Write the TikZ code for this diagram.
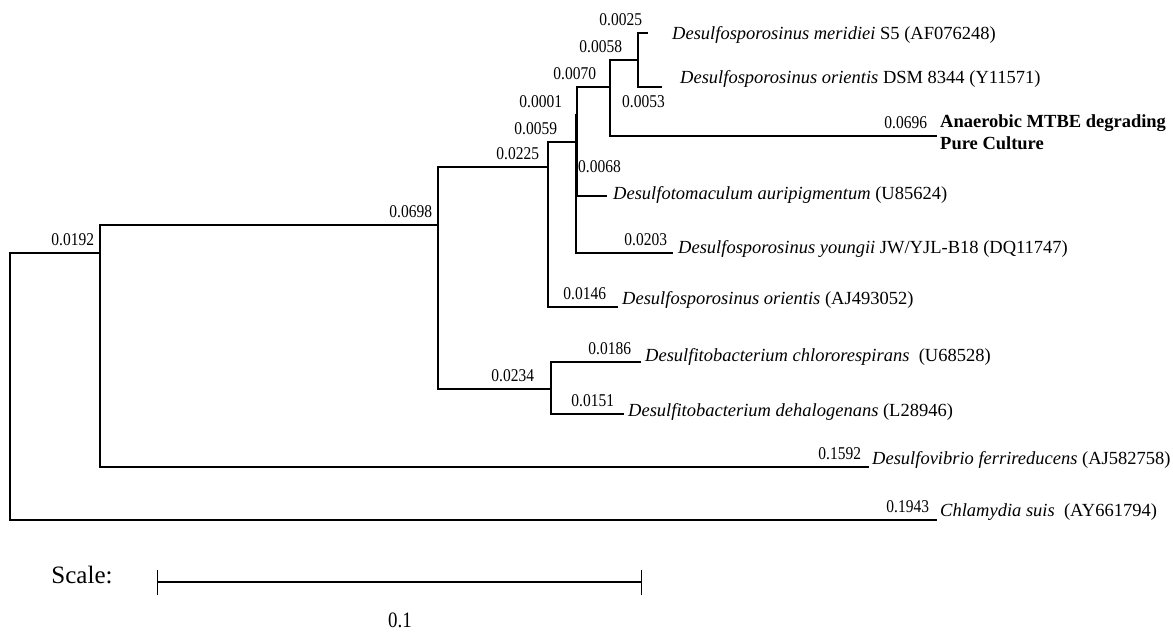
\documentclass[tikz,border=0pt]{standalone}
\usepackage{fontspec}
\setmainfont{Liberation Serif}
\newfontfamily\numfont[FakeStretch=0.86]{Liberation Serif}
\usetikzlibrary{positioning}
\tikzset{
    branch/.style={line width=1.9pt}, % tree branches
    blen/.style={anchor=south east, inner sep=0pt, font=\numfont\fontsize{18}{20}\selectfont, xshift=-5pt, yshift=6pt}, % branch lengths
    taxon/.style={anchor=base west, inner sep=0pt, font=\fontsize{18.5}{22}\selectfont}, % leaf names
}
\begin{document}
\begin{tikzpicture}[x=1pt, y=-1pt]
  \useasboundingbox (0,0) rectangle (1173,633);

  % inner nodes
  \coordinate (root) at (10,386);
  \coordinate (a) at (100,253);
  \coordinate (b) at (438,225);
  \coordinate (c) at (551,389);
  \coordinate (d) at (548,167);
  \coordinate (e) at (576,142);
  \coordinate (f) at (577,115);
  \coordinate (g) at (610,87);
  \coordinate (h) at (638,60);

  % leaf ends
  \coordinate (t1) at (648,33);
  \coordinate (t2) at (662,87);
  \coordinate (t3) at (937,136);
  \coordinate (t4) at (607,196);
  \coordinate (t5) at (673,253);
  \coordinate (t6) at (618,307);
  \coordinate (t7) at (641,362);
  \coordinate (t8) at (624,414);
  \coordinate (t9) at (869,467);
  \coordinate (t10) at (937,520);

  \draw[branch] (root) |- (a) node[blen] (l1) {0.0192};
  \draw[branch] (root) |- (t10) node[blen, xshift=-2pt] (l2) {0.1943};
  \draw[branch] (a) |- (b) node[blen] (l3) {0.0698};
  \draw[branch] (a) |- (t9) node[blen, xshift=-2pt] (l4) {0.1592};
  \draw[branch] (b) |- (d) node[blen, xshift=-3pt] (l5) {0.0225};
  \draw[branch] (b) |- (c) node[blen, xshift=-11pt] (l6) {0.0234};
  \draw[branch] (c) |- (t7) node[blen, xshift=-4pt] (l7) {0.0186};
  \draw[branch] (c) |- (t8) node[blen, xshift=-4pt] (l8) {0.0151};
  \draw[branch] (d) |- (e) node[blen, xshift=-13pt] (l9) {0.0059};
  \draw[branch] (d) |- (t6) node[blen, xshift=-6pt] (l10) {0.0146};
  \draw[branch] (e) |- (f) node[blen, xshift=-9pt] (l11) {0.0001};
  \draw[branch] (e) |- (t5) node[blen] (l12) {0.0203};
  \draw[branch] (f) |- (g) node[blen, xshift=-8pt] (l13) {0.0070};
  \draw[branch] (f) |- (t4);
  \draw[branch] (g) |- (h) node[blen, xshift=-10pt] (l15) {0.0058};
  \draw[branch] (g) |- (t3) node[blen, xshift=-4pt] (l16) {0.0696};
  \draw[branch] (h) |- (t1) node[blen] (l17) {0.0025};
  \draw[branch] (h) |- (t2);
  \node[blen, anchor=west, xshift=0pt, yshift=0pt] (l14) at (583,173) {0.0068};
  \node[blen, anchor=west, xshift=0pt, yshift=0pt] (l18) at (627,108) {0.0053};

  % leaf names
  \node[taxon] (s1) at (672,39) {\textit{Desulfosporosinus meridiei} S5 (AF076248)};
  \node[taxon] (s2) at (680,83) {\textit{Desulfosporosinus orientis} DSM 8344 (Y11571)};
  \node[taxon, font=\fontsize{18.5}{22}\selectfont\bfseries] (s3) at (940,127) {Anaerobic MTBE degrading};
  \node[taxon, font=\fontsize{18.5}{22}\selectfont\bfseries] (s3b) at ([yshift=-22pt]s3.base west) {Pure Culture};
  \node[taxon] (s4) at (613,199) {\textit{Desulfotomaculum auripigmentum} (U85624)};
  \node[taxon] (s5) at (678,253) {\textit{Desulfosporosinus youngii} JW/YJL-B18 (DQ11747)};
  \node[taxon] (s6) at (622,304) {\textit{Desulfosporosinus orientis} (AJ493052)};
  \node[taxon] (s7) at (645,361) {\textit{Desulfitobacterium chlororespirans}\ \ (U68528)};
  \node[taxon] (s8) at (628,416) {\textit{Desulfitobacterium dehalogenans} (L28946)};
  \node[taxon] (s9) at (872,464) {\textit{Desulfovibrio ferrireducens} (AJ582758)};
  \node[taxon] (s10) at (940,516) {\textit{Chlamydia suis}\ \ (AY661794)};

  % scale bar
  \coordinate (sc1) at (157,582);
  \coordinate (sc2) at (641,582);
  \draw[branch] (sc1) -- (sc2);
  \draw ([yshift=12pt]sc1) -- ([yshift=-13pt]sc1);
  \draw ([yshift=12pt]sc2) -- ([yshift=-13pt]sc2);
  \node[font=\fontsize{25}{28}\selectfont] (scl) at (82,575) {Scale:};
  \node[font=\numfont\fontsize{22}{24}\selectfont] (scv) at (400,620) {0.1};
\end{tikzpicture}
\end{document}
